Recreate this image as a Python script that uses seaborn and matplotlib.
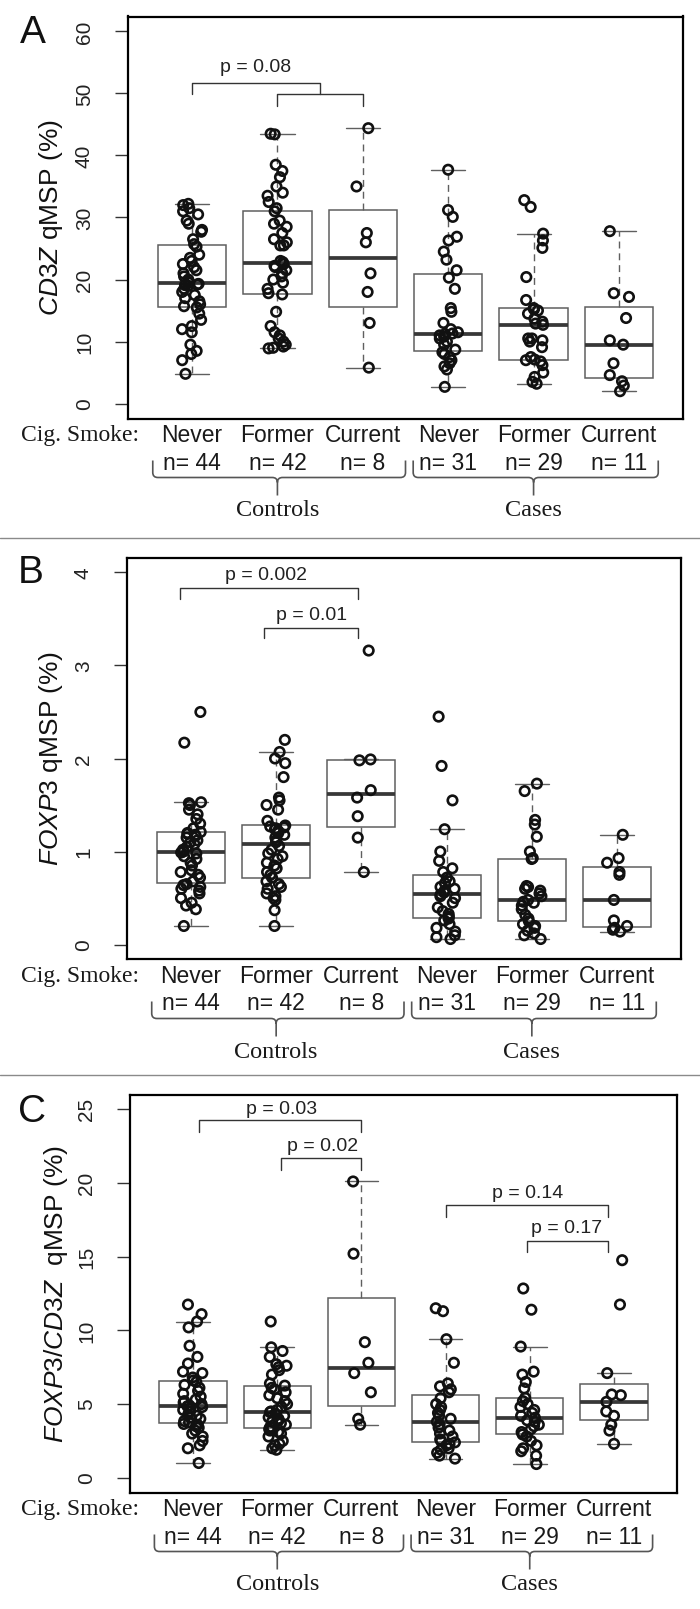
import numpy as np
import pandas as pd
import matplotlib
matplotlib.use("Agg")
import matplotlib.pyplot as plt
import matplotlib.transforms as mtransforms
from matplotlib.path import Path
from matplotlib.patches import PathPatch
from matplotlib.lines import Line2D
import seaborn as sns

# ---- data ----
group_keys = ["ctl_never", "ctl_former", "ctl_current", "case_never", "case_former", "case_current"]
smoke_labels = ["Never", "Former", "Current", "Never", "Former", "Current"]
cohort_labels = ["Controls", "Cases"]

# A: CD3Z qMSP (%)
cd3z_ctl_never = [4.8, 7.0, 8.0, 8.5, 9.5, 11.5, 12.0, 12.5, 13.5, 14.5,
                  15.5, 15.7, 16.0, 16.5, 17.0, 17.5, 18.0, 18.5, 19.0, 19.1,
                  19.2, 19.3, 19.5, 20.0, 20.5, 21.0, 21.5, 22.0, 22.5, 23.0,
                  23.5, 24.0, 25.3, 25.7, 26.5, 27.7, 28.0, 29.0, 29.5, 30.5,
                  31.0, 31.5, 32.0, 32.2]
cd3z_ctl_former = [8.9, 9.0, 9.2, 9.5, 10.0, 10.5, 11.0, 11.5, 12.5, 14.8,
                   17.6, 17.8, 18.5, 19.5, 20.0, 20.5, 21.0, 21.5, 22.0, 22.2,
                   22.5, 22.8, 23.0, 25.5, 25.5, 26.0, 26.5, 27.5, 28.5, 29.0,
                   29.5, 31.0, 31.5, 32.5, 33.5, 34.0, 35.0, 36.5, 37.5, 38.5,
                   43.4, 43.5]
cd3z_ctl_current = [5.8, 13.0, 18.0, 21.0, 26.0, 27.5, 35.0, 44.4]
cd3z_case_never = [2.7, 5.5, 6.0, 6.5, 7.0, 7.5, 8.0, 8.3, 8.7, 9.5,
                   10.0, 10.5, 10.8, 11.0, 11.2, 11.3, 11.5, 12.0, 13.0, 14.8,
                   15.4, 18.5, 20.3, 21.5, 23.2, 24.5, 26.3, 26.9, 30.1, 31.2, 37.7]
cd3z_case_former = [3.2, 3.5, 4.3, 5.0, 6.2, 6.8, 7.0, 7.1, 7.5, 9.1,
                    10.0, 10.2, 10.5, 10.5, 12.7, 12.9, 13.2, 13.7, 14.5, 15.0,
                    15.2, 15.4, 16.7, 20.4, 25.1, 26.3, 27.4, 31.7, 32.8]
cd3z_case_current = [2.0, 2.9, 3.6, 4.6, 6.5, 9.5, 10.2, 13.8, 17.2, 17.8, 27.8]

# B: FOXP3 qMSP (%)
foxp3_ctl_never = [0.20, 0.38, 0.42, 0.45, 0.50, 0.55, 0.58, 0.60, 0.62, 0.64,
                   0.65, 0.68, 0.72, 0.75, 0.78, 0.80, 0.85, 0.88, 0.92, 0.95,
                   0.98, 0.99, 1.00, 1.02, 1.05, 1.08, 1.10, 1.12, 1.15, 1.17,
                   1.18, 1.19, 1.20, 1.21, 1.25, 1.30, 1.35, 1.40, 1.45, 1.50,
                   1.52, 1.53, 2.17, 2.50]
foxp3_ctl_former = [0.20, 0.37, 0.48, 0.50, 0.52, 0.55, 0.60, 0.62, 0.65, 0.68,
                    0.72, 0.75, 0.78, 0.82, 0.85, 0.88, 0.92, 0.95, 0.98, 1.02,
                    1.06, 1.10, 1.12, 1.15, 1.18, 1.20, 1.22, 1.24, 1.25, 1.26,
                    1.27, 1.28, 1.33, 1.45, 1.50, 1.55, 1.58, 1.80, 1.95, 2.00,
                    2.07, 2.20]
foxp3_ctl_current = [0.78, 1.15, 1.38, 1.58, 1.66, 1.98, 1.99, 3.16]
foxp3_case_never = [0.06, 0.08, 0.10, 0.14, 0.18, 0.22, 0.26, 0.28, 0.30, 0.33,
                    0.36, 0.40, 0.45, 0.50, 0.52, 0.54, 0.56, 0.58, 0.60, 0.62,
                    0.66, 0.68, 0.72, 0.78, 0.82, 0.90, 1.00, 1.24, 1.55, 1.92, 2.45]
foxp3_case_former = [0.06, 0.10, 0.12, 0.15, 0.18, 0.20, 0.22, 0.25, 0.28, 0.32,
                     0.38, 0.42, 0.45, 0.46, 0.48, 0.52, 0.55, 0.58, 0.60, 0.62,
                     0.63, 0.92, 0.93, 1.00, 1.16, 1.29, 1.34, 1.65, 1.73]
foxp3_case_current = [0.14, 0.16, 0.18, 0.20, 0.26, 0.48, 0.75, 0.78, 0.88, 0.93, 1.18]

# C: FOXP3/CD3Z qMSP (%)
ratio_ctl_never = [1.0, 2.0, 2.2, 2.5, 2.8, 3.0, 3.2, 3.4, 3.5, 3.6,
                   3.65, 3.75, 3.85, 4.0, 4.1, 4.2, 4.3, 4.5, 4.6, 4.7,
                   4.8, 4.85, 4.9, 5.0, 5.1, 5.2, 5.3, 5.5, 5.7, 5.9,
                   6.1, 6.3, 6.5, 6.6, 6.8, 7.1, 7.2, 7.75, 8.2, 8.95,
                   10.2, 10.6, 11.1, 11.75]
ratio_ctl_former = [1.9, 2.0, 2.2, 2.3, 2.5, 2.8, 3.0, 3.1, 3.2, 3.3,
                    3.4, 3.45, 3.6, 3.7, 3.8, 3.9, 4.0, 4.1, 4.2, 4.35,
                    4.45, 4.5, 4.6, 4.8, 5.0, 5.2, 5.4, 5.6, 5.8, 6.0,
                    6.1, 6.25, 6.4, 7.0, 7.3, 7.5, 7.6, 7.7, 8.2, 8.6,
                    8.85, 10.6]
ratio_ctl_current = [3.6, 4.0, 5.8, 7.1, 7.8, 9.2, 15.2, 20.1]
ratio_case_never = [1.3, 1.5, 1.7, 1.9, 2.0, 2.2, 2.3, 2.4, 2.5, 2.6,
                    2.8, 3.0, 3.2, 3.4, 3.6, 3.8, 4.0, 4.2, 4.4, 4.6,
                    4.8, 5.0, 5.4, 5.8, 6.0, 6.2, 6.4, 7.8, 9.4, 11.3, 11.5]
ratio_case_former = [0.93, 1.5, 1.8, 2.0, 2.2, 2.5, 2.8, 2.94, 3.1, 3.3,
                     3.5, 3.6, 3.8, 3.9, 4.07, 4.2, 4.4, 4.6, 4.8, 5.0,
                     5.2, 5.42, 6.06, 6.5, 7.0, 7.2, 8.9, 11.4, 12.84]
ratio_case_current = [2.3, 3.2, 3.6, 4.2, 4.5, 5.15, 5.6, 5.65, 7.1, 11.75, 14.76]

# p-value brackets: (x_left, x_right, y_bar, y_leg_end, text_x, text_y, label)
brackets_a = [(0.0, 1.5, 51.7, 49.9, 0.74, 54.2, "p = 0.08"),
              (1.0, 2.0, 49.9, 48.0, None, None, None)]
brackets_b = [(-0.13, 1.96, 3.835, 3.71, 0.88, 3.97, "p = 0.002"),
              (0.86, 1.96, 3.405, 3.29, 1.41, 3.54, "p = 0.01")]
brackets_c = [(0.07, 2.0, 24.25, 23.46, 1.05, 25.05, "p = 0.03"),
              (1.04, 2.0, 21.7, 20.9, 1.54, 22.5, "p = 0.02"),
              (3.01, 4.93, 18.5, 17.7, 3.97, 19.35, "p = 0.14"),
              (3.97, 4.93, 16.07, 15.3, 4.44, 16.95, "p = 0.17")]

# ---- style ----
sns.set_style("white")
plt.rcParams["font.family"] = ["Liberation Sans", "DejaVu Sans"]
plt.rcParams["mathtext.fontset"] = "custom"
plt.rcParams["mathtext.it"] = "Liberation Sans:italic"
plt.rcParams["mathtext.rm"] = "Liberation Sans"

W, H = 700, 1609.5
fig = plt.figure(figsize=(W / 100, H / 100), dpi=100, facecolor="white")


def fy(py):
    return 1 - py / H


def r_box_stats(vals):
    # same hinges/whiskers as R's boxplot.stats (fivenum, coef = 1.5)
    v = np.sort(np.asarray(vals, float))
    n = len(v)
    n4 = np.floor((n + 3) / 2) / 2
    d = np.array([1, n4, (n + 1) / 2, n + 1 - n4, n]) - 1
    fn = 0.5 * (v[np.floor(d).astype(int)] + v[np.ceil(d).astype(int)])
    iqr = fn[3] - fn[1]
    lo = v[v >= fn[1] - 1.5 * iqr].min()
    hi = v[v <= fn[3] + 1.5 * iqr].max()
    return dict(med=fn[2], q1=fn[1], q3=fn[3], whislo=lo, whishi=hi, fliers=[])


def draw_brace(trans, x0, x1, xc, y_top, y_bot, y_tip, rx=0.06, ry=5):
    verts = [(x0, fy(y_top)), (x0, fy(y_bot - ry)), (x0, fy(y_bot)), (x0 + rx, fy(y_bot)),
             (xc - rx, fy(y_bot)), (xc, fy(y_bot)), (xc, fy(y_bot + ry)), (xc, fy(y_tip)),
             (xc, fy(y_bot + ry)), (xc, fy(y_bot)), (xc + rx, fy(y_bot)),
             (x1 - rx, fy(y_bot)), (x1, fy(y_bot)), (x1, fy(y_bot - ry)), (x1, fy(y_top))]
    codes = [Path.MOVETO, Path.LINETO, Path.CURVE3, Path.CURVE3,
             Path.LINETO, Path.CURVE3, Path.CURVE3, Path.LINETO,
             Path.MOVETO, Path.CURVE3, Path.CURVE3,
             Path.LINETO, Path.CURVE3, Path.CURVE3, Path.LINETO]
    fig.add_artist(PathPatch(Path(verts, codes), transform=trans, fill=False,
                             edgecolor="#555555", lw=1.2))


def draw_panel(letter, letter_xy, ylabel, ylabel_x, values, ylim, yticks, box, brackets, seed):
    L, T, R, B = box
    ax = fig.add_axes([L / W, fy(B), (R - L) / W, (B - T) / H])

    stats = [r_box_stats(v) for v in values]
    ax.bxp(stats, positions=range(6), widths=0.8, showfliers=False, patch_artist=True,
           manage_ticks=False,
           boxprops=dict(facecolor="white", edgecolor="#5f5f5f", linewidth=1.1),
           medianprops=dict(color="#383838", linewidth=2.7, solid_capstyle="butt"),
           whiskerprops=dict(color="#5f5f5f", linewidth=1.0, linestyle=(0, (5, 3.5))),
           capprops=dict(color="#5f5f5f", linewidth=1.0))

    df = pd.DataFrame({"group": np.repeat(group_keys, [len(v) for v in values]),
                       "value": np.concatenate(values)})
    np.random.seed(seed)
    sns.stripplot(data=df, x="group", y="value", order=group_keys, jitter=0.12,
                  size=6.8, color="black", ax=ax, zorder=3)
    for coll in ax.collections:
        coll.set_facecolor("none")
        coll.set_edgecolor("#111111")
        coll.set_linewidth(1.9)

    for x0, x1, ybar, yleg, tx, ty, lab in brackets:
        ax.plot([x0, x0, x1, x1], [yleg, ybar, ybar, yleg], color="#333333", lw=1.0)
        if lab:
            ax.text(tx, ty, lab, ha="center", va="center", fontsize=14, color="#222222")

    ax.set_xlim(-0.75, 5.75)
    ax.set_ylim(*ylim)
    ax.set_xticks([])
    ax.set_yticks(yticks)
    ax.set_xlabel("")
    ax.tick_params(axis="y", left=True, length=9.5, width=1.0, color="#333333",
                   pad=15, labelsize=15, labelcolor="#222222")
    for lab in ax.get_yticklabels():
        lab.set_rotation(90)
        lab.set_va("center")
    for s in ax.spines.values():
        s.set_visible(True)
        s.set_color("black")
        s.set_linewidth(1.6)

    ax.set_ylabel(ylabel, fontsize=19, color="#111111")
    ax.yaxis.label.set_rotation_mode("default")
    ax.yaxis.label.set_va("center")
    ax.yaxis.set_label_coords((ylabel_x - L) / (R - L), 0.5)

    fig.text(letter_xy[0] / W, fy(letter_xy[1]), letter, fontsize=28,
             ha="center", va="center", color="#111111")

    # labels under the axes
    trans = mtransforms.blended_transform_factory(ax.transData, fig.transFigure)
    fig.text(80 / W, fy(B + 16), "Cig. Smoke:", family="Liberation Serif",
             fontsize=17, ha="center", va="center", color="#1a1a1a")
    for i, (lab, v) in enumerate(zip(smoke_labels, values)):
        fig.text(i, fy(B + 16), lab, transform=trans, fontsize=16.5,
                 ha="center", va="center", color="#1a1a1a")
        fig.text(i, fy(B + 44), f"n= {len(v)}", transform=trans, fontsize=16.5,
                 ha="center", va="center", color="#1a1a1a")
    draw_brace(trans, -0.46, 2.5, 1.0, B + 42, B + 59, B + 77)
    draw_brace(trans, 2.59, 5.46, 4.0, B + 42, B + 59, B + 77)
    for xc, lab in zip([1.0, 4.0], cohort_labels):
        fig.text(xc, fy(B + 92), lab, transform=trans, family="Liberation Serif",
                 fontsize=17.5, ha="center", va="center", color="#1a1a1a")
    return ax


draw_panel("A", (33, 33), r"$\mathit{CD3Z}$ qMSP (%)", 51,
           [cd3z_ctl_never, cd3z_ctl_former, cd3z_ctl_current,
            cd3z_case_never, cd3z_case_former, cd3z_case_current],
           (-2.4, 62.4), range(0, 61, 10), (128, 17, 683, 419), brackets_a, 11)
draw_panel("B", (31, 573), r"$\mathit{FOXP3}$ qMSP (%)", 51,
           [foxp3_ctl_never, foxp3_ctl_former, foxp3_ctl_current,
            foxp3_case_never, foxp3_case_former, foxp3_case_current],
           (-0.16, 4.16), range(0, 5), (127, 558, 681, 960), brackets_b, 12)
draw_panel("C", (32, 1112), r"$\mathit{FOXP3/CD3Z}$  qMSP (%)", 56,
           [ratio_ctl_never, ratio_ctl_former, ratio_ctl_current,
            ratio_case_never, ratio_case_former, ratio_case_current],
           (-1, 26), range(0, 26, 5), (130, 1095, 677, 1493), brackets_c, 13)

# thin separators between panels
for y in (538, 1075):
    fig.add_artist(Line2D([0, 1], [fy(y), fy(y)], transform=fig.transFigure,
                          color="#8a8a8a", lw=1.0))

fig.savefig("out.png", dpi=100, facecolor="white")
